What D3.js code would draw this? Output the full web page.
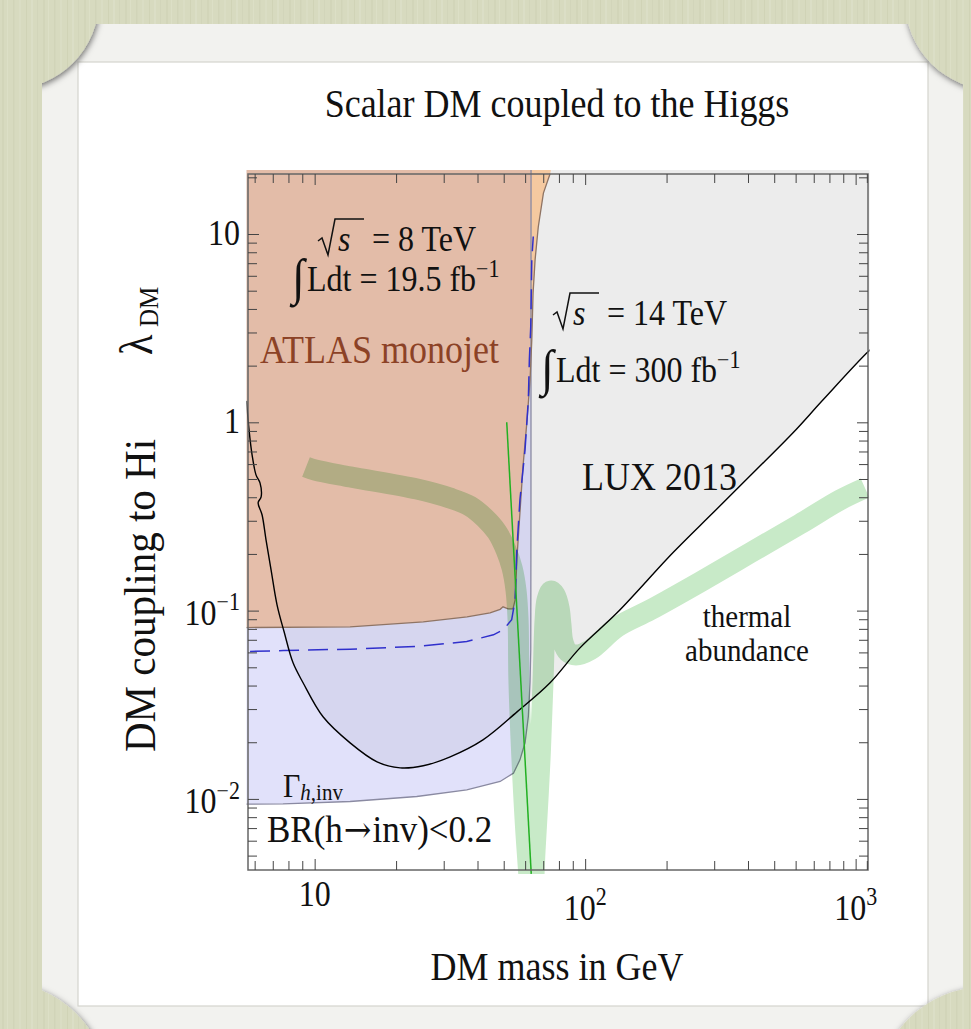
<!DOCTYPE html>
<html><head><meta charset="utf-8">
<script src="https://cdn.jsdelivr.net/npm/d3@7"></script>
<style>
html,body{margin:0;padding:0;background:#d6d9be;}
svg{display:block;}
text{font-family:"Liberation Serif","Times New Roman",serif;}
</style></head><body>
<svg id="c" width="971" height="1029"></svg>
<script>
// ---------------- data ----------------
const xDomain = [5.67, 1111];
const yDomain = [0.004193, 20.83];
const xMajorTicks = [10, 100, 1000];
const xTickBase = ["10", "10", "10"];
const xTickSup = ["", "2", "3"];
const xMinorTicks = [6,7,8,9,20,30,40,50,60,70,80,90,200,300,400,500,600,700,800,900,1100];
const yMajorTicks = [0.01, 0.1, 1, 10];
const yTickBase = ["10", "10", "1", "10"];
const yTickSup = ["\u22122", "\u22121", "", ""];
const yMinorTicks = [0.005,0.006,0.007,0.008,0.009,0.02,0.03,0.04,0.05,0.06,0.07,0.08,0.09,
                     0.2,0.3,0.4,0.5,0.6,0.7,0.8,0.9,2,3,4,5,6,7,8,9,20];

// LUX 2013 bound
const luxMass = [5.6, 5.72, 5.87, 6.07, 6.28, 6.34, 6.18, 6.39, 6.61, 6.90, 7.26, 7.71, 8.32, 9.06, 10.74,
                 13.52, 17.01, 20.7, 25.2, 31.7, 41.9, 56.0, 74.2, 95.7, 131.2, 211, 297, 418, 587, 758, 1111, 1200];
const luxCoupling = [1.3, 0.912, 0.672, 0.526, 0.477, 0.402, 0.374, 0.323, 0.2377, 0.1647, 0.1074, 0.0772, 0.0528, 0.0414, 0.0273,
                     0.01985, 0.01574, 0.01462, 0.0150, 0.01674, 0.0206, 0.0290, 0.0414, 0.0634, 0.0973, 0.2028, 0.3307, 0.539, 0.880, 1.317, 2.368, 2.6];

// Higgs invisible width bound (BR(h->inv)<0.2)
const gammaMass = [5.5, 7.64, 13.52, 23.85, 36.5, 48.5, 54.3, 57.4, 59.95, 61.66, 62.56, 62.94, 63.05, 63.1];
const gammaCoupling = [0.00938, 0.00942, 0.00969, 0.0103, 0.01118, 0.01238, 0.0137, 0.01613, 0.01986, 0.0274, 0.0414, 0.0619, 0.3, 30];

// ATLAS monojet 8 TeV, 19.5 fb^-1
const atlasMass = [5.5, 13.52, 25.2, 36.6, 44.5, 48.5, 49.7, 51.9, 54.1, 55.1, 56.0, 58.9, 61.0, 62.56, 63.5, 64.2, 65.3, 67.1, 70.1, 74.2, 77];
const atlasCoupling = [0.0813, 0.0820, 0.0872, 0.0927, 0.0973, 0.1016, 0.1047, 0.1022, 0.1022, 0.1141, 0.193, 0.580, 1.03, 1.68, 2.74, 4.87, 7.29, 10.9, 16.5, 20.9, 30];

// 14 TeV, 300 fb^-1 projection (dashed)
const projMass = [5.77, 7.66, 13.52, 23.85, 36.5, 45.8, 49.8, 53.5, 55.1, 55.9, 57.4, 59.95, 61.66, 62.2, 62.94, 63.5, 64.3];
const projCoupling = [0.0607, 0.0614, 0.0624, 0.0645, 0.0685, 0.0744, 0.0791, 0.0894, 0.1141, 0.210, 0.388, 0.714, 1.317, 2.15, 3.23, 7.29, 9.70];

// thin green line
const greenMass = [51.3, 63.2];
const greenCoupling = [1.0, 0.004];

// thermal abundance band (centre line)
const thermalMass = [9.29, 10.03, 13.51, 23.9, 31.6, 37.5, 42.6, 47.2, 51.0, 53.7, 55.5, 56.5, 56.9, 58.4, 61.0, 63.6,
                     65.3, 68.1, 69.9, 71.1, 72.3, 74.8, 77.4, 80.1, 81.4, 82.8, 86.4, 92.5, 104.2, 131.2, 173.7, 265.9, 406.8, 622.8, 875.2, 1083];
const thermalCoupling = [0.579, 0.558, 0.513, 0.442, 0.396, 0.359, 0.310, 0.2615, 0.2098, 0.1684, 0.1287, 0.0891, 0.0428, 0.01609, 0.00535, 0.00273,
                     0.00535, 0.01609, 0.0428, 0.0891, 0.1138, 0.127, 0.121, 0.1032, 0.0838, 0.0681, 0.0603, 0.0581, 0.0618, 0.0818, 0.1007, 0.1418, 0.2022, 0.2884, 0.3867, 0.4478];

const TOPFILL = 30;

// ---------------- drawing ----------------
const svg = d3.select("#c");
const W = 971, H = 1029;
const SY = 1.1;
const defs = svg.append("defs");

// background texture
const pat = defs.append("pattern").attr("id","tex").attr("patternUnits","userSpaceOnUse")
  .attr("width",41).attr("height",H);
pat.append("rect").attr("width",41).attr("height",H).attr("fill","#d7dabf");
[[2,2,"#d0d3b7"],[7,1,"#dfe1ca"],[13,1.5,"#cfd2b5"],[19,2,"#dcdfc6"],[26,1,"#cdd0b3"],[31,2,"#dee0c9"],[37,1,"#d1d4b8"]]
  .forEach(s => pat.append("rect").attr("x",s[0]).attr("y",0).attr("width",s[1]).attr("height",H).attr("fill",s[2]).attr("opacity",0.7));

const sh = defs.append("filter").attr("id","sh").attr("x",-0.3).attr("y",-0.3).attr("width",1.6).attr("height",1.6);
sh.append("feDropShadow").attr("dx",1).attr("dy",2).attr("stdDeviation",3).attr("flood-color","#000").attr("flood-opacity",0.55);
const sh2 = defs.append("filter").attr("id","sh2").attr("x",-0.1).attr("y",-0.1).attr("width",1.2).attr("height",1.2);
sh2.append("feDropShadow").attr("dx",0).attr("dy",1).attr("stdDeviation",1.5).attr("flood-color","#000").attr("flood-opacity",0.25);

svg.append("rect").attr("width",W).attr("height",H).attr("fill","url(#tex)");
svg.append("rect").attr("x",42).attr("y",24).attr("width",921).attr("height",1030).attr("fill","#f2f2ef").attr("filter","url(#sh2)");
svg.append("rect").attr("x",78).attr("y",62).attr("width",850).attr("height",944).attr("fill","#ffffff")
  .attr("stroke","#d4d4ce").attr("stroke-width",1.2);

// curtain corners
[[10,0,89],[995,0,90],[0,1090,108],[985,1095,108]].forEach(c =>
  svg.append("circle").attr("cx",c[0]).attr("cy",c[1]).attr("r",c[2]).attr("fill","url(#tex)").attr("filter","url(#sh)"));
// side strips drawn over the circle rims so the curtains merge with them
svg.append("rect").attr("x",0).attr("y",0).attr("width",42).attr("height",H).attr("fill","url(#tex)");
svg.append("rect").attr("x",963).attr("y",0).attr("width",8).attr("height",H).attr("fill","url(#tex)");
svg.append("rect").attr("x",0).attr("y",0).attr("width",W).attr("height",24).attr("fill","url(#tex)");

// scales
const x = d3.scaleLog().domain(xDomain).range([248, 868]);
const y = d3.scaleLog().domain(yDomain).range([870, 174]);

defs.append("clipPath").attr("id","plotclip").append("rect")
  .attr("x",246.5).attr("y",170).attr("width",623).attr("height",704);
defs.append("clipPath").attr("id","sliverclip").append("rect")
  .attr("x",x(63.1)).attr("y",160).attr("width",400).attr("height",720);

const plot = svg.append("g").attr("clip-path","url(#plotclip)");
const zip = (a,b) => a.map((v,i) => [v, b[i]]);
const line = d3.line().x(d => x(d[0])).y(d => y(d[1]));
const smooth = d3.line().x(d => x(d[0])).y(d => y(d[1])).curve(d3.curveCatmullRom.alpha(0.5));

const luxPts = zip(luxMass, luxCoupling);
const gamPts = zip(gammaMass, gammaCoupling);
const atlPts = zip(atlasMass, atlasCoupling);

// LUX excluded (grey)
plot.append("path").attr("d", smooth(luxPts) + "L" + x(1300) + "," + y(TOPFILL) + "L" + x(5.3) + "," + y(TOPFILL) + "Z")
  .attr("fill","#ececec");
// Higgs invisible width (blue)
plot.append("path").attr("d", line(gamPts.concat([[gammaMass[0], TOPFILL]])) + "Z")
  .attr("fill","rgb(184,184,243)").attr("fill-opacity",0.42);
// ATLAS monojet
const atlD = line(atlPts.concat([[atlasMass[0], TOPFILL]])) + "Z";
plot.append("path").attr("d", atlD).attr("fill","rgb(230,181,150)").attr("fill-opacity",0.8);
plot.append("g").attr("clip-path","url(#sliverclip)").append("path").attr("d", atlD).attr("fill","#f5c9a0");
// boundaries
plot.append("path").attr("d", line(gamPts)).attr("fill","none").attr("stroke","#8a8aa2").attr("stroke-width",1.3);
plot.append("path").attr("d", line(atlPts.slice(0, atlPts.length-1))).attr("fill","none").attr("stroke","#8f7464").attr("stroke-width",1.3);

// thermal band
plot.append("path").attr("d", smooth(zip(thermalMass, thermalCoupling)))
  .attr("fill","none").attr("stroke","rgb(200,234,200)").attr("stroke-width",21)
  .attr("stroke-linejoin","round").attr("stroke-linecap","butt").style("mix-blend-mode","multiply");

// dashed projection
plot.append("path").attr("d", line(zip(projMass, projCoupling))).attr("fill","none")
  .attr("stroke","#3030cc").attr("stroke-width",1.5).attr("stroke-dasharray","20,9");
// LUX line
plot.append("path").attr("d", smooth(luxPts)).attr("fill","none").attr("stroke","#000").attr("stroke-width",1.4);
// green line
plot.append("path").attr("d", line(zip(greenMass, greenCoupling))).attr("fill","none").attr("stroke","#22b022").attr("stroke-width",1.5);

// frame
svg.append("rect").attr("x",248).attr("y",174).attr("width",620).attr("height",696)
  .attr("fill","none").attr("stroke","#666").attr("stroke-width",1.5);

// ticks via d3 axes (inward)
function tickSet(axisFn, scale, vals, len, tr) {
  const g = svg.append("g").attr("transform", tr)
    .call(axisFn(scale).tickValues(vals).tickSize(-len).tickFormat(""));
  g.select(".domain").remove();
  g.selectAll("line").attr("stroke","#444").attr("stroke-width",1);
}
tickSet(d3.axisBottom, x, xMajorTicks, 11, "translate(0,870)");
tickSet(d3.axisBottom, x, xMinorTicks, 9, "translate(0,870)");
tickSet(d3.axisTop, x, xMajorTicks, 11, "translate(0,174)");
tickSet(d3.axisTop, x, xMinorTicks, 9, "translate(0,174)");
tickSet(d3.axisLeft, y, yMajorTicks, 11, "translate(248,0)");
tickSet(d3.axisLeft, y, yMinorTicks, 9, "translate(248,0)");
tickSet(d3.axisRight, y, yMajorTicks, 11, "translate(868,0)");
tickSet(d3.axisRight, y, yMinorTicks, 9, "translate(868,0)");

// text helper
function txt(px, py, size, anchor, rot) {
  return svg.append("text")
    .attr("transform", `translate(${px},${py})` + (rot ? ` rotate(${rot})` : "") + ` scale(1,${SY})`)
    .attr("font-size", size).attr("text-anchor", anchor || "start").attr("fill", "#111");
}

// x tick labels
xMajorTicks.forEach((v, i) => {
  const t = txt(x(v), xTickSup[i] ? 920 : 906, 32, "middle");
  t.append("tspan").text(xTickBase[i]);
  if (xTickSup[i]) t.append("tspan").attr("font-size", 22).attr("dy", -14).text(xTickSup[i]);
});
// y tick labels
yMajorTicks.forEach((v, i) => {
  const t = txt(240, y(v) + (yTickSup[i] ? 14 : 11), 32, "end");
  t.append("tspan").text(yTickBase[i]);
  if (yTickSup[i]) t.append("tspan").attr("font-size", 22).attr("dy", -13).text(yTickSup[i]);
});

// titles
txt(557, 117, 36, "middle").text("Scalar DM coupled to the Higgs");
txt(557, 980, 36, "middle").text("DM mass in GeV");
txt(155, 752, 41, "start", -90).text("DM coupling to Hi");
txt(152, 355, 42, "start", -90).text("\u03bb");
txt(158, 327, 25, "start", -90).text("DM");

// radical helper
function sqrtS(x0, b, rest) {
  svg.append("path")
    .attr("d", `M${x0},${b-10} L${x0+4},${b-13} L${x0+10},${b+4} L${x0+17},${b-32} L${x0+46},${b-32}`)
    .attr("fill","none").attr("stroke","#111").attr("stroke-width",1.5).attr("stroke-linejoin","miter");
  txt(x0+20, b, 32).attr("font-style","italic").text("s");
  txt(x0+54, b, 32).text(rest);
}
function lumi(x0, b, rest, sup) {
  txt(x0, b+3, 46).text("\u222b");
  const t = txt(x0+15, b, 32);
  t.append("tspan").text(rest);
  t.append("tspan").attr("font-size",22).attr("dy",-13).text(sup);
}
sqrtS(318, 251, "= 8 TeV");
lumi(292, 291, "Ldt = 19.5 fb", "\u22121");
sqrtS(553, 325, "= 14 TeV");
lumi(541, 382, "Ldt = 300 fb", "\u22121");

txt(260, 363, 36).attr("fill","#8c4226").text("ATLAS monojet");
txt(582, 490, 36).text("LUX 2013");
txt(747, 627, 29, "middle").text("thermal");
txt(747, 661, 29, "middle").text("abundance");
const gm = txt(283, 797, 30);
gm.append("tspan").text("\u0393");
gm.append("tspan").attr("font-size",21).attr("dy",3).attr("font-style","italic").text("h");
gm.append("tspan").attr("font-size",21).text(",inv");
const br = txt(267, 842, 35);
br.append("tspan").text("BR(h");
br.append("tspan").attr("font-family","DejaVu Serif").attr("font-size",33).attr("dx",1).text("\u2192");
br.append("tspan").attr("dx",1).text("inv)<0.2");
</script>
</body></html>
